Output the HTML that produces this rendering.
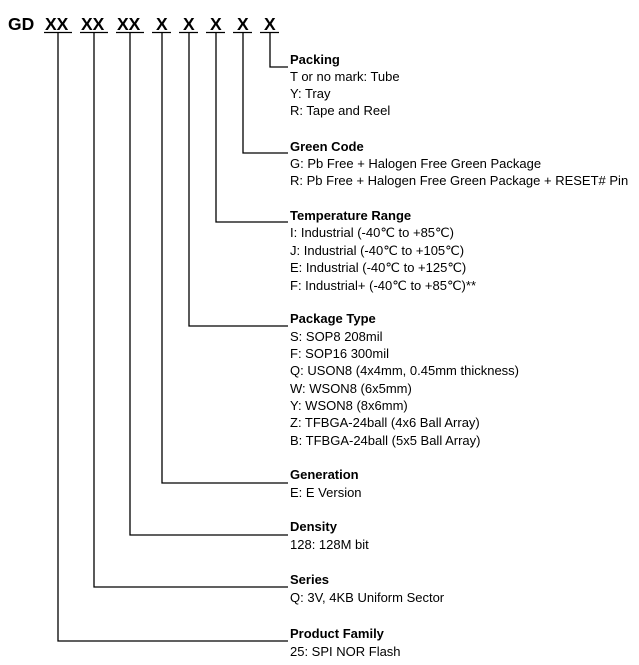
<!DOCTYPE html>
<html><head><meta charset="utf-8"><style>
html,body{margin:0;padding:0;background:#fff;}
svg{display:block;}
text{font-family:"Liberation Sans",Arial,sans-serif;fill:#000;font-size:13px;}
.h{font-weight:bold;}
.t{font-weight:bold;font-size:17.5px;}
</style></head><body>
<svg width="639" height="665" viewBox="0 0 639 665" xmlns="http://www.w3.org/2000/svg">
<text class="t" x="8" y="30">GD</text>
<text class="t" x="45" y="30">XX</text>
<text class="t" x="81" y="30">XX</text>
<text class="t" x="117" y="30">XX</text>
<text class="t" x="156" y="30">X</text>
<text class="t" x="183" y="30">X</text>
<text class="t" x="210" y="30">X</text>
<text class="t" x="237" y="30">X</text>
<text class="t" x="264" y="30">X</text>
<g stroke="#000" stroke-width="1.3" fill="none">
<path d="M44 32.5H72M80 32.5H108M116 32.5H144M152 32.5H171M179 32.5H198M206 32.5H225M233 32.5H252M260 32.5H279"/>
<path d="M270 33V67H288"/>
<path d="M243 33V153H288"/>
<path d="M216 33V222H288"/>
<path d="M189 33V326H288"/>
<path d="M162 33V483H288"/>
<path d="M130 33V535H288"/>
<path d="M94 33V587H288"/>
<path d="M58 33V641H288"/>
</g>
<text class="h" x="290" y="64">Packing</text>
<text x="290" y="81">T or no mark: Tube</text>
<text x="290" y="98">Y: Tray</text>
<text x="290" y="115">R: Tape and Reel</text>

<text class="h" x="290" y="151">Green Code</text>
<text x="290" y="168">G: Pb Free + Halogen Free Green Package</text>
<text x="290" y="185">R: Pb Free + Halogen Free Green Package + RESET# Pin</text>

<text class="h" x="290" y="220">Temperature Range</text>
<text x="290" y="237">I: Industrial (-40℃ to +85℃)</text>
<text x="290" y="255">J: Industrial (-40℃ to +105℃)</text>
<text x="290" y="272">E: Industrial (-40℃ to +125℃)</text>
<text x="290" y="290">F: Industrial+ (-40℃ to +85℃)**</text>

<text class="h" x="290" y="323">Package Type</text>
<text x="290" y="341">S: SOP8 208mil</text>
<text x="290" y="358">F: SOP16 300mil</text>
<text x="290" y="375">Q: USON8 (4x4mm, 0.45mm thickness)</text>
<text x="290" y="393">W: WSON8 (6x5mm)</text>
<text x="290" y="410">Y: WSON8 (8x6mm)</text>
<text x="290" y="427">Z: TFBGA-24ball (4x6 Ball Array)</text>
<text x="290" y="445">B: TFBGA-24ball (5x5 Ball Array)</text>

<text class="h" x="290" y="479">Generation</text>
<text x="290" y="497">E: E Version</text>

<text class="h" x="290" y="531">Density</text>
<text x="290" y="549">128: 128M bit</text>

<text class="h" x="290" y="584">Series</text>
<text x="290" y="602">Q: 3V, 4KB Uniform Sector</text>

<text class="h" x="290" y="638">Product Family</text>
<text x="290" y="656">25: SPI NOR Flash</text>
</svg>
</body></html>
